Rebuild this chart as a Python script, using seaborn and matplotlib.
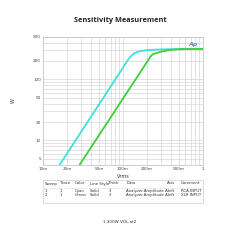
import pandas as pd
import matplotlib.pyplot as plt
import seaborn as sns
from matplotlib.ticker import FixedLocator, NullFormatter, LogLocator

# RCA input (cyan) and XLR input (green): output power vs input voltage
rca_v = [0.0162, 0.12, 0.135, 0.155, 0.2, 0.3, 0.5, 1.0]
rca_w = [4, 225, 262, 285, 302, 310, 314, 315]
xlr_v = [0.0288, 0.22, 0.235, 0.3, 0.4, 0.55, 1.0]
xlr_w = [4, 235, 258, 285, 305, 314, 316]

x_ticks = [0.01, 0.02, 0.05, 0.1, 0.2, 0.5, 1]
x_labels = ['10m', '20m', '50m', '100m', '200m', '500m', '1']
y_ticks = [5, 10, 20, 50, 100, 200, 500]
y_labels = ['5', '10', '20', '50', '100', '200', '500']

table_cols = ['Sweep', 'Trace', 'Color', 'Line Style', 'Thick', 'Data', 'Axis', 'Comment']
table_rows = [
    ['1', '1', 'Cyan', 'Solid', '3', 'Analyzer.Amplitude A', 'Left', 'RCA INPUT'],
    ['2', '1', 'Green', 'Solid', '3', 'Analyzer.Amplitude A', 'Left', 'XLR INPUT'],
]

df = pd.concat([
    pd.DataFrame({'Vrms': rca_v, 'W': rca_w, 'input': 'RCA INPUT'}),
    pd.DataFrame({'Vrms': xlr_v, 'W': xlr_w, 'input': 'XLR INPUT'}),
])

sns.set_style('white')
plt.rcParams['font.family'] = ['DejaVu Sans']

fig = plt.figure(figsize=(2.4, 2.4), dpi=100)
ax = fig.add_axes([0.179, 0.314, 0.667, 0.533])

sns.lineplot(data=df, x='Vrms', y='W', hue='input',
             palette={'RCA INPUT': '#3fe0e0', 'XLR INPUT': '#3ccf3c'},
             linewidth=1.3, legend=False, ax=ax, sort=False)

ax.set_xscale('log')
ax.set_yscale('log')
ax.set_xlim(0.01, 1)
ax.set_ylim(4, 500)

ax.xaxis.set_major_locator(FixedLocator(x_ticks))
ax.set_xticklabels(x_labels)
ax.yaxis.set_major_locator(FixedLocator(y_ticks))
ax.set_yticklabels(y_labels)
ax.xaxis.set_minor_locator(LogLocator(base=10, subs=range(1, 10)))
ax.yaxis.set_minor_locator(LogLocator(base=10, subs=range(1, 10)))
ax.xaxis.set_minor_formatter(NullFormatter())
ax.yaxis.set_minor_formatter(NullFormatter())

ax.grid(True, which='both', color='#d6d6d6', linewidth=0.5)
ax.tick_params(which='both', length=0, labelsize=3, pad=1.5, colors='#444444')
for s in ax.spines.values():
    s.set_color('#c8c8c8')
    s.set_linewidth(0.6)

ax.set_xlabel('Vrms', fontsize=3.5, labelpad=2, color='#333333')
ax.set_ylabel('W', fontsize=3.5, labelpad=12, rotation=90, color='#333333')

ax.text(0.965, 0.955, 'Ap', transform=ax.transAxes, fontsize=4.5,
        style='italic', color='#6a8ab0', ha='right', va='top', fontweight='bold')

fig.text(0.5, 1 - 20.5 / 240, 'Sensitivity Measurement', ha='center', va='center',
         fontsize=5.3, fontweight='bold', family='Open Sans', color='#222222')

# table under the chart
col_x = [0.185, 0.250, 0.313, 0.375, 0.452, 0.526, 0.697, 0.753]
tx0, tx1 = 0.179, 0.846
ty_top, ty_bot = 1 - 179.5 / 240, 1 - 203 / 240
fig.add_artist(plt.Rectangle((tx0, ty_bot), tx1 - tx0, ty_top - ty_bot,
                             transform=fig.transFigure, fill=False,
                             edgecolor='#cccccc', linewidth=0.5))
fig.add_artist(plt.Line2D([tx0, tx1], [1 - 187.5 / 240] * 2,
                          transform=fig.transFigure, color='#dddddd', linewidth=0.4))
for x, c in zip(col_x, table_cols):
    fig.text(x, 1 - 183.5 / 240, c, fontsize=2.8, va='center', color='#333333')
for i, row in enumerate(table_rows):
    y = 1 - (190.8 + i * 4.3) / 240
    for x, c in zip(col_x, row):
        fig.text(x, y, c, fontsize=2.8, va='center', color='#333333')

fig.text(0.5, 1 - 221.7 / 240, '1.300W VOL.at2', ha='center', va='center',
         fontsize=3, color='#333333')

fig.savefig('out.png', dpi=100)
plt.close(fig)
